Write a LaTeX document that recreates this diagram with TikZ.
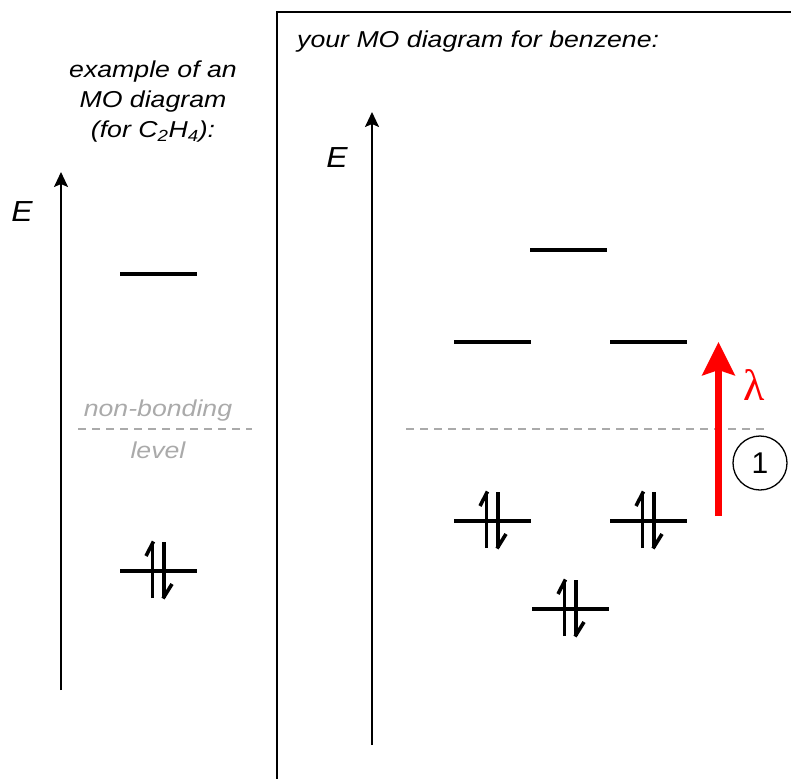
\documentclass[tikz,border=0pt]{standalone}
\usepackage{fontspec}
\setmainfont{Liberation Sans}
\newfontfamily\lamfont{Liberation Serif}
\usetikzlibrary{arrows.meta}
\definecolor{nbgray}{RGB}{170,170,170}
\definecolor{lamred}{RGB}{255,0,0}
\tikzset{
  lbl/.style={font=\fontsize{23}{30}\selectfont\itshape, xscale=1.16, transform shape, align=center, inner sep=0pt},
  elabel/.style={font=\fontsize{29}{30}\selectfont\itshape, xscale=1.1, transform shape, inner sep=0pt},
  axis/.style={line width=2pt, -{Stealth[length=15pt,width=14pt,inset=3pt]}},
  level/.style={line width=3.8pt},
  elec/.style={line width=3.6pt, line cap=butt},
  nblevel/.style={nbgray, line width=2pt, dash pattern=on 8pt off 6pt},
  excite/.style={lamred, line width=7pt, -{Stealth[length=33pt,width=32pt,inset=5pt]}},
  epair/.pic={
    \draw[elec] (-6,27) -- (-6,-29);
    \draw[elec] (-5,-29.5) -- (-12.5,-15);
    \draw[elec] (5.5,-29) -- (5.5,27);
    \draw[elec] (4.5,27.5) -- (13.5,13);
  }
}
\begin{document}
\begin{tikzpicture}[x=1pt,y=-1pt]
\useasboundingbox (0,0) rectangle (791,778);
% right panel frame
\draw[line width=2pt] (277,790) -- (277,12) -- (800,12);
% ---------- left panel ----------
\node[lbl] (title1) at (153,102) {example of an\\MO diagram\\(for C\textsubscript{2}H\textsubscript{4}):};
\node[elabel] (E1) at (22,212) {E};
\coordinate (ax1b) at (61,690);
\coordinate (ax1t) at (61,172);
\draw[axis] (ax1b) -- (ax1t);
\coordinate (l1a) at (120,274); \coordinate (l1b) at (197,274);
\draw[level] (l1a) -- (l1b);
\node[lbl, text=nbgray] (nb1) at (158,411) {non-bonding};
\node[lbl, text=nbgray] (nb2) at (158,450) {level};
\coordinate (nba) at (78,429); \coordinate (nbb) at (252,429);
\draw[nblevel] (nba) -- (nbb);
\coordinate (h1a) at (120,571); \coordinate (h1b) at (197,571);
\draw[level] (h1a) -- (h1b);
\pic at (158.5,571) {epair};
% ---------- right panel ----------
\node[lbl, anchor=west] (title2) at (297,42) {your MO diagram for benzene:};
\node[elabel] (E2) at (337,158) {E};
\coordinate (ax2b) at (372,745);
\coordinate (ax2t) at (372,112);
\draw[axis] (ax2b) -- (ax2t);
% antibonding levels
\draw[level] (530,250) -- (607,250);
\draw[level] (454,342) -- (531,342);
\draw[level] (610,342) -- (687,342);
% non-bonding
\coordinate (nbc) at (406,429); \coordinate (nbd) at (765,429);
\draw[nblevel] (nbc) -- (nbd);
% bonding levels
\draw[level] (454,521) -- (531,521);
\draw[level] (610,521) -- (687,521);
\draw[level] (532,609) -- (609,609);
\pic at (492.5,521) {epair};
\pic at (648.5,521) {epair};
\pic at (570.5,609) {epair};
% excitation
\coordinate (exb) at (718.5,516);
\coordinate (ext) at (718.5,342);
\draw[excite] (exb) -- (ext);
\node[text=lamred, font=\fontsize{44}{44}\selectfont\lamfont, inner sep=0pt] (lam) at (754,385) {λ};
\node[draw, circle, line width=1.3pt, minimum size=54pt, inner sep=0pt,
      font=\fontsize{30}{30}\selectfont] (one) at (760,463) {1};
\end{tikzpicture}
\end{document}
